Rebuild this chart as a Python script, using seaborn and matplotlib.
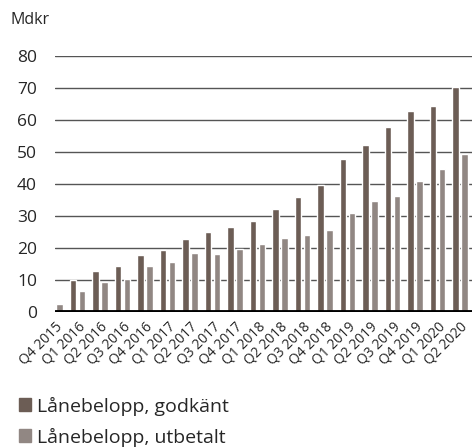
import numpy as np
import pandas as pd
import seaborn as sns
import matplotlib.pyplot as plt
from matplotlib.patches import Patch

kvartal = ['Q4 2015', 'Q1 2016', 'Q2 2016', 'Q3 2016', 'Q4 2016',
           'Q1 2017', 'Q2 2017', 'Q3 2017', 'Q4 2017',
           'Q1 2018', 'Q2 2018', 'Q3 2018', 'Q4 2018',
           'Q1 2019', 'Q2 2019', 'Q3 2019', 'Q4 2019',
           'Q1 2020', 'Q2 2020']
godkant = [0.0, 9.9, 12.7, 14.5, 17.9, 19.4, 22.9, 24.9, 26.5, 28.3,
           32.3, 36.0, 39.7, 47.9, 52.3, 57.7, 62.9, 64.4, 70.2]
utbetalt = [2.5, 6.6, 9.4, 10.4, 14.5, 15.6, 18.3, 18.1, 19.8, 21.2,
            23.2, 24.0, 25.6, 30.8, 34.6, 36.3, 40.9, 44.7, 49.3]
serier = ['Lånebelopp, godkänt', 'Lånebelopp, utbetalt']
farger = ['#6c5d55', '#918783']

df = pd.DataFrame({
    'kvartal': kvartal * 2,
    'belopp': godkant + utbetalt,
    'serie': [serier[0]] * len(kvartal) + [serier[1]] * len(kvartal),
})

sns.set_style('white')
plt.rcParams['font.family'] = ['Open Sans', 'DejaVu Sans']

fig = plt.figure(figsize=(4.72, 4.48), dpi=100)
ax = fig.add_axes([55 / 472, 136 / 448, 417 / 472, 256 / 448])

sns.barplot(data=df, x='kvartal', y='belopp', hue='serie', palette=farger,
            width=0.8, gap=0.27, legend=False, ax=ax, saturation=1, zorder=2)

ax.set_ylim(0, 80)
ax.set_xlim(0, 18.53)
ax.set_yticks(range(0, 81, 10))
for y in range(10, 81, 10):
    ax.axhline(y, color='#555555', lw=1, zorder=0)
ax.axhline(0, color='black', lw=3.5, zorder=3)
for s in ax.spines.values():
    s.set_visible(False)

ax.set_xlabel('')
ax.set_ylabel('')
ax.tick_params(axis='y', length=0, labelsize=12.5, pad=13)
ax.tick_params(axis='x', length=0, labelsize=10, pad=5)
plt.setp(ax.get_xticklabels(), rotation=45, ha='right', rotation_mode='anchor')

fig.text(10 / 472, 1 - 20 / 448, 'Mdkr', fontsize=11.5, va='center', ha='left')

handles = [Patch(color=c, label=s) for c, s in zip(farger, serier)]
fig.legend(handles=handles, loc='upper left', bbox_to_anchor=(11 / 472, 1 - 389 / 448),
           frameon=False, fontsize=14, handlelength=0.65, handleheight=0.65,
           handletextpad=0.3, labelspacing=0.6, borderaxespad=0)

fig.savefig('out.png', dpi=100)
